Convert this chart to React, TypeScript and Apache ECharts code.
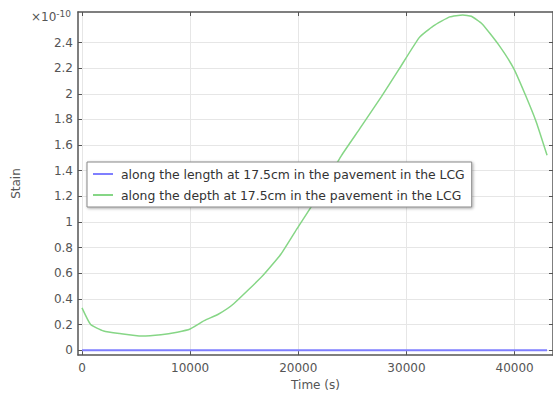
import React, { useEffect, useRef } from "react";
import * as echarts from "echarts";

// Time samples (s) and strain values (×10^-10)
const timeS = [0, 800, 2000, 3500, 5500, 7300, 8800, 10000, 11300, 12600, 14000, 16700, 18400, 19900, 21200, 22600, 24000, 25700, 27700, 29300, 31200, 32500, 34000, 35200, 36000, 37000, 38500, 39900, 41000, 42000, 43000];
const alongDepth = [0.33, 0.2, 0.15, 0.13, 0.11, 0.12, 0.14, 0.165, 0.23, 0.28, 0.36, 0.58, 0.75, 0.95, 1.12, 1.32, 1.52, 1.73, 1.98, 2.19, 2.44, 2.53, 2.6, 2.615, 2.605, 2.545, 2.385, 2.2, 1.99, 1.78, 1.52];
const alongLength = [0, 0, 0, 0, 0, 0, 0, 0, 0, 0, 0, 0, 0, 0, 0, 0, 0, 0, 0, 0, 0, 0, 0, 0, 0, 0, 0, 0, 0, 0, 0];

const xTicks = [0, 10000, 20000, 30000, 40000];
const yTicks = [0, 0.2, 0.4, 0.6, 0.8, 1, 1.2, 1.4, 1.6, 1.8, 2, 2.2, 2.4];

const seriesNames = [
  "along the length at 17.5cm in the pavement in the LCG",
  "along the depth at 17.5cm in the pavement in the LCG",
];

const FONT = "DejaVu Sans";
const AXIS_COLOR = "#555";

export default function App() {
  const ref = useRef<HTMLDivElement>(null);

  useEffect(() => {
    if (!ref.current) return;
    const chart = echarts.init(ref.current, null, { renderer: "svg" });

    const xRange = { min: -370, max: 43550 };
    const yRange = { min: -0.0385, max: 2.638 };

    const baseX = {
      type: "value" as const,
      ...xRange,
      axisLine: { show: true, onZero: false, lineStyle: { color: AXIS_COLOR, width: 1.5 } },
      axisTick: { show: true, inside: true, length: 4, customValues: xTicks, lineStyle: { color: AXIS_COLOR } },
    };
    const baseY = {
      type: "value" as const,
      ...yRange,
      axisLine: { show: true, onZero: false, lineStyle: { color: AXIS_COLOR, width: 1.5 } },
      axisTick: { show: true, inside: true, length: 4, customValues: yTicks, lineStyle: { color: AXIS_COLOR } },
    };

    chart.setOption({
      animation: false,
      backgroundColor: "#fff",
      grid: { left: 78, top: 12, right: -1, bottom: 36, containLabel: false },
      legend: {
        orient: "vertical",
        left: 87,
        top: 162,
        padding: [5, 7, 5, 6],
        itemGap: 7,
        itemWidth: 20,
        itemHeight: 2,
        icon: "rect",
        backgroundColor: "#fff",
        borderColor: "#888",
        borderWidth: 1,
        shadowBlur: 3,
        shadowColor: "rgba(0,0,0,0.35)",
        shadowOffsetX: 1,
        shadowOffsetY: 1,
        textStyle: { fontFamily: FONT, fontSize: 12.4, color: "#333", lineHeight: 14, padding: [0, 0, 0, 3] },
        data: seriesNames,
      },
      xAxis: [
        {
          ...baseX,
          position: "bottom",
          name: "Time (s)",
          nameLocation: "middle",
          nameGap: 22,
          nameTextStyle: { fontFamily: FONT, fontSize: 12, color: AXIS_COLOR },
          axisLabel: {
            customValues: xTicks,
            margin: 7,
            fontFamily: FONT,
            fontSize: 12,
            color: AXIS_COLOR,
            formatter: (v: number) => String(v),
          },
          splitLine: { show: true, lineStyle: { color: "#e6e6e6", width: 1 } },
        },
        {
          ...baseX,
          position: "top",
          axisLabel: { show: false },
          splitLine: { show: false },
        },
      ],
      yAxis: [
        {
          ...baseY,
          position: "left",
          name: "Stain",
          nameLocation: "middle",
          nameGap: 56,
          nameTextStyle: { fontFamily: FONT, fontSize: 12, color: AXIS_COLOR },
          axisLabel: {
            customValues: yTicks,
            margin: 5,
            fontFamily: FONT,
            fontSize: 12,
            color: AXIS_COLOR,
            formatter: (v: number) => String(Math.round(v * 10) / 10),
          },
          splitLine: { show: true, lineStyle: { color: "#e6e6e6", width: 1 } },
        },
        {
          ...baseY,
          position: "right",
          axisLabel: { show: false },
          splitLine: { show: false },
        },
      ],
      graphic: [
        {
          type: "text",
          left: 31,
          top: 9,
          style: {
            text: "{m|×10}{s|-10}",
            rich: {
              m: { fontFamily: FONT, fontSize: 12, fill: AXIS_COLOR, verticalAlign: "bottom", lineHeight: 14 },
              s: { fontFamily: FONT, fontSize: 9, fill: AXIS_COLOR, verticalAlign: "top", lineHeight: 9 },
            },
          },
        },
      ],
      series: [
        {
          name: seriesNames[0],
          type: "line",
          data: timeS.map((t, i) => [t, alongLength[i]]),
          symbol: "none",
          lineStyle: { color: "#7f7fff", width: 2 },
          itemStyle: { color: "#7f7fff" },
          z: 3,
        },
        {
          name: seriesNames[1],
          type: "line",
          data: timeS.map((t, i) => [t, alongDepth[i]]),
          symbol: "none",
          smooth: 0.15,
          lineStyle: { color: "#86d686", width: 1.5 },
          itemStyle: { color: "#86d686" },
          z: 2,
        },
      ],
    });

    return () => chart.dispose();
  }, []);

  return (
    <div
      ref={ref}
      style={{ position: "fixed", left: 0, top: 0, width: 553, height: 396, background: "#fff" }}
    />
  );
}
